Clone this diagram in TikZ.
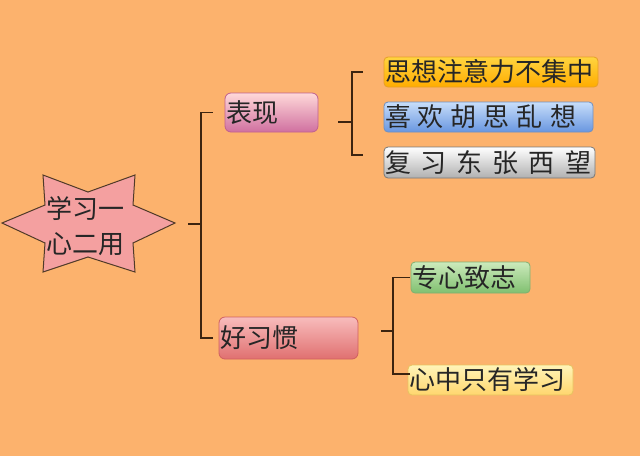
\documentclass[tikz,border=0pt]{standalone}
\usepackage{fontspec}
\setmainfont{Noto Sans CJK SC}
\usetikzlibrary{calc}
\definecolor{bgc}{HTML}{FCB26D}
\definecolor{linec}{HTML}{3C2410}
\definecolor{starc}{HTML}{F4A0A0}
\newcommand\ckgap{\kern7pt}
\newcommand\ckgapb{\kern10pt}
\tikzset{
  conn/.style={draw=linec, line width=1.4pt},
  box/.style={rounded corners=4pt, inner xsep=1pt, inner ysep=0pt, align=left,
     font=\fontsize{26}{28}\selectfont, text=black!85, line width=0.8pt},
  pbox/.style={box, rounded corners=6pt},
}
\begin{document}
\begin{tikzpicture}[x=1pt,y=-1pt]
\fill[bgc] (0,0) rectangle (640,456);
\useasboundingbox (0,0) rectangle (640,456);

% star
\draw[fill=starc, draw=linec!90, line width=1pt]
  (2,223) -- (45,205) -- (43,175) -- (88,192) -- (135,175) -- (133,205)
  -- (175,223) -- (133,243) -- (135,272) -- (88,257) -- (43,272) -- (45,243) -- cycle;
\node[align=center, font=\fontsize{26}{35}\selectfont, text=black!85, inner sep=0pt] (star) at (85,226) {学习一\\心二用};
\coordinate (s) at (188,224);
\coordinate (j1) at (201,224);

% level 1
\node[pbox, top color=pink!60!white, bottom color={rgb,255:red,208;green,112;blue,160}, draw={rgb,255:red,192;green,96;blue,144},
  text width=91pt, minimum height=39pt] (b1) at (271.5,112.5) {表现};
\node[pbox, top color={rgb,255:red,248;green,188;blue,188}, bottom color={rgb,255:red,224;green,112;blue,112}, draw={rgb,255:red,208;green,96;blue,96},
  text width=137pt, minimum height=42pt] (b2) at (288.5,338) {好习惯};

% level 2
\node[box, top color={rgb,255:red,255;green,212;blue,64}, bottom color={rgb,255:red,255;green,172;blue,0}, draw={rgb,255:red,230;green,160;blue,40},
  text width=212pt, minimum height=30pt] (c1) at (491,72) {思想注意力不集中};
\node[box, top color={rgb,255:red,200;green,222;blue,250}, bottom color={rgb,255:red,104;green,150;blue,224}, draw={rgb,255:red,112;green,144;blue,192},
  text width=207pt, minimum height=30pt] (c2) at (488.5,117) {喜\ckgap 欢\ckgap 胡\ckgap 思\ckgap 乱\ckgap 想};
\node[box, top color=white, bottom color={rgb,255:red,176;green,176;blue,176}, draw={rgb,255:red,120;green,120;blue,120},
  text width=209pt, minimum height=31pt] (c3) at (489.5,162.5) {复\ckgapb 习\ckgapb 东\ckgapb 张\ckgapb 西\ckgapb 望};
\node[box, top color={rgb,255:red,204;green,234;blue,188}, bottom color={rgb,255:red,128;green,192;blue,112}, draw={rgb,255:red,128;green,176;blue,112},
  text width=117pt, minimum height=31pt] (d1) at (470.5,277.5) {专心致志};
\node[box, top color={rgb,255:red,255;green,244;blue,184}, bottom color={rgb,255:red,255;green,214;blue,110}, draw={rgb,255:red,230;green,196;blue,96},
  text width=163pt, minimum height=30pt] (d2) at (490.5,380) {心中只有学习};

% trunk
\draw[conn] (s) -- (j1);
\draw[conn] ([xshift=-12pt]b1.west) -| (j1) |- ([xshift=-6pt]b2.west);

% bracket 1
\coordinate (k1) at (352,122);
\draw[conn] ([xshift=-21pt]c1.west) -| (k1) |- ([xshift=-21pt,yshift=7.5pt]c3.west);
\draw[conn] (k1) -- ++(-14,0);

% bracket 2
\coordinate (k2) at (393,331);
\draw[conn] ([xshift=-1pt]d1.west) -| (k2) |- ([xshift=2pt,yshift=6pt]d2.west);
\draw[conn] (k2) -- ++(-12,0);
\end{tikzpicture}
\end{document}
